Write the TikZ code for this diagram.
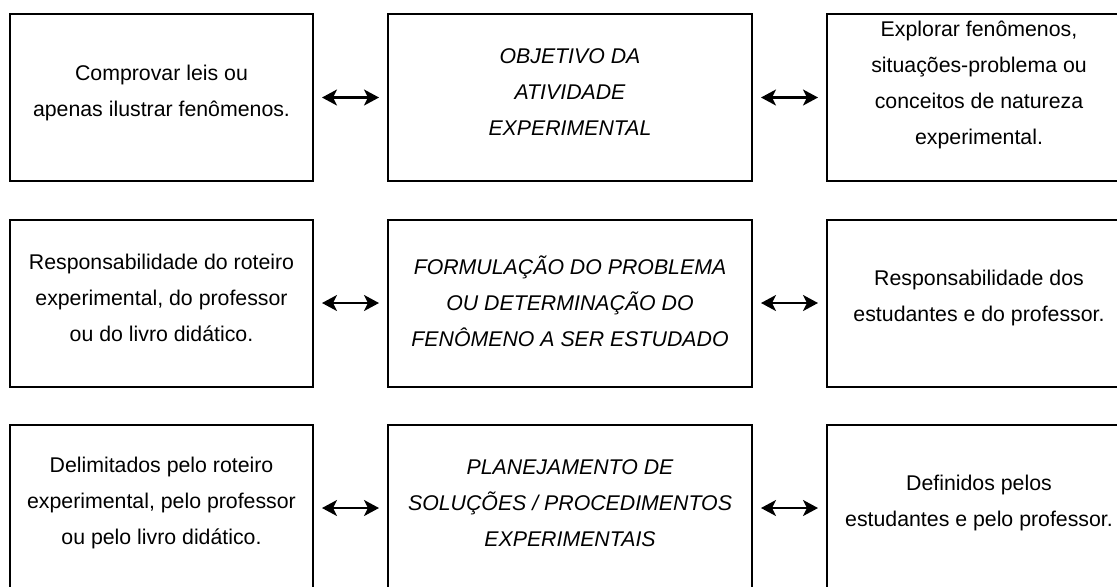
\documentclass[tikz,border=0pt]{standalone}
\usepackage{fontspec}
\setmainfont{Liberation Sans}
\usetikzlibrary{arrows.meta}
\tikzset{
	quadro/.style={draw, line width=1pt, minimum width=#1, minimum height=83.5pt, inner sep=0pt},
	texto/.style={align=center, font=\fontsize{10.65}{18}\selectfont},
	titulo/.style={align=center, font=\fontsize{10.65}{18}\selectfont\itshape},
	seta/.style={{Stealth[length=7.5pt,width=8pt,inset=2pt]}-{Stealth[length=7.5pt,width=8pt,inset=2pt]}, line width=1.1pt, shorten <=4pt, shorten >=4pt}
}

\begin{document}
\begin{tikzpicture}[x=0.5pt,y=-0.5pt]
				\useasboundingbox (0,0) rectangle (1117,586);
				
				% objetivo
				\node[quadro=151.5pt] (esq1) at (161.5,97.5) {};
				\node[quadro=182pt] (cen1) at (570,97.5) {};
				\node[quadro=152pt] (dir1) at (979,97.5) {};
				\node[texto] (esq1t) at ([yshift=2.5pt]esq1.center) {Comprovar leis ou\\apenas ilustrar fenômenos.};
				\node[titulo] (cen1t) at ([yshift=2.5pt]cen1.center) {OBJETIVO DA\\ATIVIDADE\\EXPERIMENTAL};
				\node[texto] (dir1t) at ([yshift=6.5pt]dir1.center) {Explorar fenômenos,\\situações-problema ou\\conceitos de natureza\\experimental.};
				\draw[seta] (esq1) -- (cen1);
				\draw[seta] (cen1) -- (dir1);
				
				% problema
				\node[quadro=151.5pt] (esq2) at (161.5,303) {};
				\node[quadro=182pt] (cen2) at (570,303) {};
				\node[quadro=152pt] (dir2) at (979,303) {};
				\node[texto] (esq2t) at ([yshift=2.5pt]esq2.center) {Responsabilidade do roteiro\\experimental, do professor\\ou do livro didático.};
				\node[titulo] (cen2t) at ([yshift=1pt]cen2.center) {FORMULAÇÃO DO PROBLEMA\\OU DETERMINAÇÃO DO\\FENÔMENO A SER ESTUDADO};
				\node[texto] (dir2t) at ([yshift=2.5pt]dir2.center) {Responsabilidade dos\\estudantes e do professor.};
				\draw[seta] (esq2) -- (cen2);
				\draw[seta] (cen2) -- (dir2);
				
				% planejamento
				\node[quadro=151.5pt] (esq3) at (161.5,508) {};
				\node[quadro=182pt] (cen3) at (570,508) {};
				\node[quadro=152pt] (dir3) at (979,508) {};
				\node[texto] (esq3t) at ([yshift=2.5pt]esq3.center) {Delimitados pelo roteiro\\experimental, pelo professor\\ou pelo livro didático.};
				\node[titulo] (cen3t) at ([yshift=2.5pt]cen3.center) {PLANEJAMENTO DE\\SOLUÇÕES / PROCEDIMENTOS\\EXPERIMENTAIS};
				\node[texto] (dir3t) at ([yshift=2.5pt]dir3.center) {Definidos pelos\\estudantes e pelo professor.};
				\draw[seta] (esq3) -- (cen3);
				\draw[seta] (cen3) -- (dir3);
\end{tikzpicture}
\end{document}
